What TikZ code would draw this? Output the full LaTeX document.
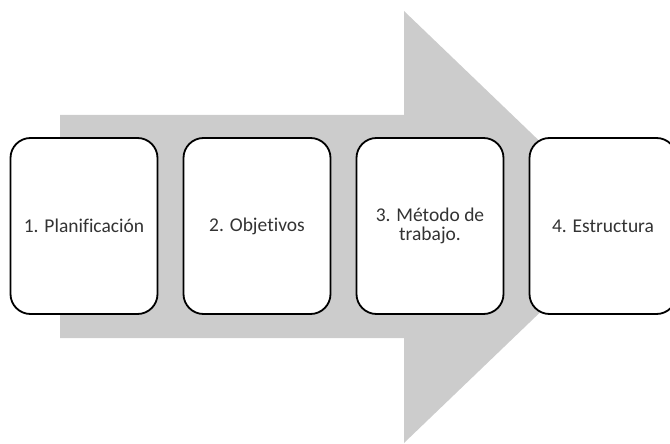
\documentclass[tikz,border=0pt]{standalone}
\usepackage{fontspec}
\setmainfont[Ligatures=NoCommon]{Carlito}
\definecolor{arrowgrey}{HTML}{CCCCCC}
\definecolor{textgrey}{HTML}{333333}
\tikzset{
	stagebox/.style={draw=black, line width=1.8pt, fill=white, rounded corners=20pt,
		minimum width=147pt, minimum height=176pt, inner sep=0pt, align=center,
		text=textgrey, font=\fontsize{19.5}{19.5}\selectfont},
}

\begin{document}
\begin{tikzpicture}[x=1pt, y=-1pt]
			%%%%% START %%%%%
			
			\clip (0, 0) rectangle (670, 444);
			
			\fill[arrowgrey] (60, 115) -- (404, 115) -- (404, 11) -- (629, 227)
				-- (404, 443) -- (404, 338) -- (60, 338) -- cycle;
			
			\node[stagebox] (plan) at (84, 226) {1. Planificaci\'on};
			\node[stagebox] (obj) at (257, 226) {2. Objetivos};
			\node[stagebox] (metodo) at (430, 226) {3. M\'etodo de\\trabajo.};
			\node[stagebox] (estr) at (603, 226) {4. Estructura};
			
			%%%%% END %%%%%
\end{tikzpicture}
\end{document}
